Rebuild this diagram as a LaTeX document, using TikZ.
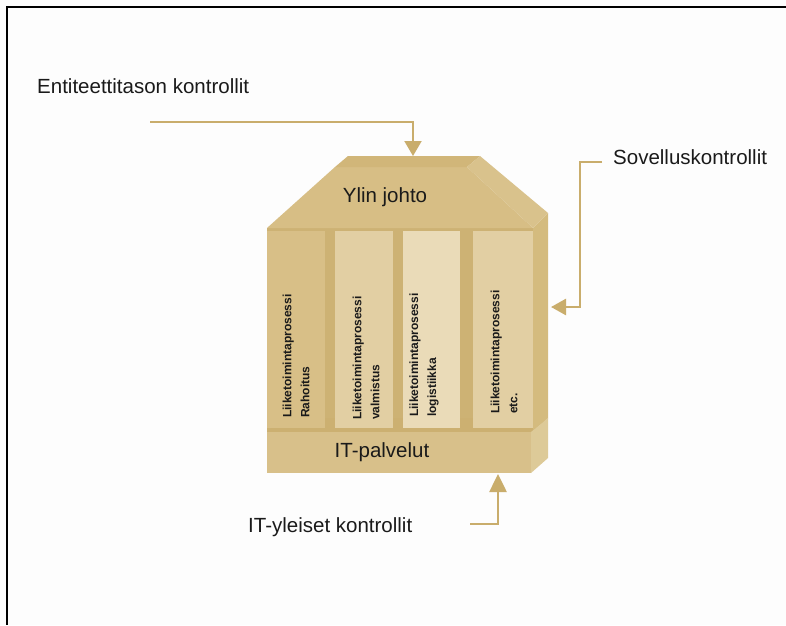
\documentclass[tikz,border=0pt]{standalone}
\usepackage{fontspec}
\setmainfont{Liberation Sans}
\usetikzlibrary{arrows.meta}
\definecolor{paper}{HTML}{FDFDFD}
\definecolor{roofFront}{HTML}{D7BE85}
\definecolor{roofTopFace}{HTML}{D1B679}
\definecolor{roofSide}{HTML}{D9C28C}
\definecolor{gapc}{HTML}{CDB274}
\definecolor{colA}{HTML}{D8BF87}
\definecolor{colB}{HTML}{E2CFA3}
\definecolor{colC}{HTML}{EADBB8}
\definecolor{blockSide}{HTML}{D4BB7E}
\definecolor{baseFront}{HTML}{D8C08A}
\definecolor{baseTop}{HTML}{CCB071}
\definecolor{baseSide}{HTML}{DDCA98}
\definecolor{arrowc}{HTML}{C9AD6C}
\definecolor{ink}{HTML}{1A1A1A}
\begin{document}
\begin{tikzpicture}[x=1pt,y=-1pt,
  lbl/.style={font=\fontsize{20.5}{24}\selectfont, text=ink, inner sep=0pt},
  coltext/.style={font=\fontsize{12}{18}\selectfont\bfseries, text=ink,
    rotate=90, align=left, anchor=west, inner sep=0pt},
  ctl/.style={draw=arrowc, line width=2.6pt,
    -{Triangle[width=17pt,length=16pt]}}]

% canvas and frame
\fill[paper] (0,0) rectangle (786,625);
\useasboundingbox (0,0) rectangle (786,625);
\draw[line width=2.2pt] (786,7) -- (7,7) -- (7,625);

% back of the column block (visible in the gaps)
\fill[gapc] (267,228) rectangle (533,432);
% top face of the base
\fill[baseTop] (267,432) -- (533,432) -- (548,418) -- (282,418) -- cycle;

% the four columns
\fill[colA] (267,231) rectangle (325,428);
\fill[colB] (335,231) rectangle (393,428);
\fill[colC] (403,231) rectangle (460,428);
\fill[colB] (473,231) rectangle (533,428);

% right face of the column block
\fill[blockSide] (533,228) -- (548,213) -- (548,418) -- (533,430) -- cycle;

% roof: front, top and right faces
\fill[roofFront] (335,167) -- (467,167) -- (533,228) -- (267,228) -- cycle;
\fill[roofTopFace] (335,167) -- (348,156) -- (480,156) -- (467,167) -- cycle;
\fill[roofSide] (467,167) -- (480,156) -- (548,213) -- (533,228) -- cycle;

% base: front and right faces
\fill[baseFront] (267,432) rectangle (531,473);
\fill[baseSide] (531,432) -- (548,418) -- (548,458) -- (531,473) -- cycle;

% texts on the building
\node[lbl] (ylin) at (385,197) {Ylin johto};
\node[lbl] (itp) at (382,452) {IT-palvelut};
\node[coltext] (p1) at (296,418) {Liiketoimintaprosessi\\Rahoitus};
\node[coltext] (p2) at (366,420) {Liiketoimintaprosessi\\valmistus};
\node[coltext] (p3) at (424,417) {Liiketoimintaprosessi\\logistiikka};
\node[coltext] (p4) at (504,414) {Liiketoimintaprosessi\\etc.};

% outside labels
\node[lbl, anchor=west] (ent) at (37,86) {Entiteettitason kontrollit};
\node[lbl, anchor=west] (sov) at (613,157) {Sovelluskontrollit};
\node[lbl, anchor=west] (ityl) at (248,527) {IT-yleiset kontrollit};

% control arrows
\coordinate (entIn) at (150,122);
\coordinate (roofIn) at (413,156);
\draw[ctl, line width=2pt, -{Triangle[width=17pt,length=15pt]}] (entIn) -| (roofIn);

\coordinate (sovIn) at (602,162);
\coordinate (sovBend) at (580,162);
\coordinate (sideIn) at (551,307);
\draw[ctl, -{Triangle[width=16pt,length=15pt]}] (sovIn) -- (sovBend) |- (sideIn);

\coordinate (itIn) at (470,524);
\coordinate (baseIn) at (498,474);
\draw[ctl, -{Triangle[width=17pt,length=18pt]}] (itIn) -| (baseIn);
\end{tikzpicture}
\end{document}
